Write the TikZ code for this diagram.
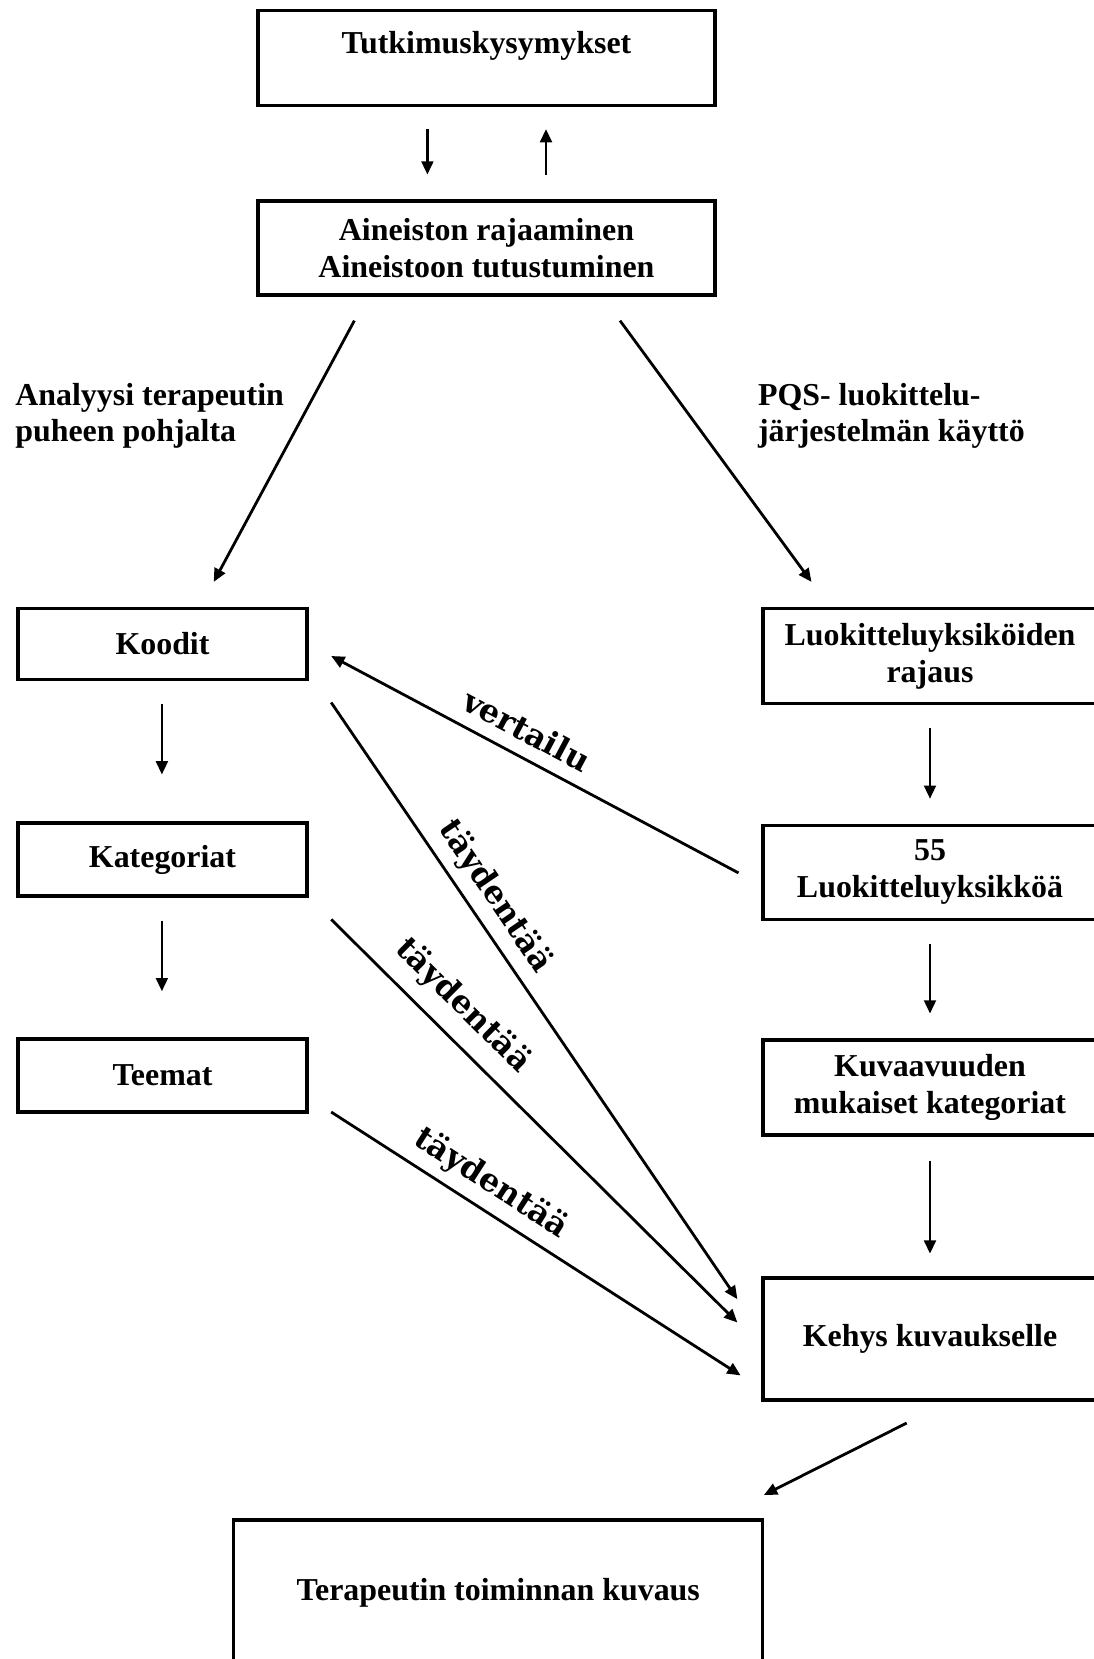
\documentclass[tikz,border=0pt]{standalone}
\usepackage{fontspec}
\setmainfont{Liberation Serif}
\newfontfamily\slabfont{DejaVu Serif}
\usetikzlibrary{arrows.meta}
\begin{document}
\begin{tikzpicture}[x=0.376pt,y=-0.376pt,
  box/.style={draw, line width=1.2pt, inner sep=0pt, font=\bfseries\fontsize{12}{13.8}\selectfont, align=center},
  txt/.style={font=\bfseries\fontsize{12}{13.8}\selectfont, inner sep=0pt},
  arr/.style={line width=1.05pt, -{Triangle[length=5pt,width=4.4pt]}},
  lbl/.style={font=\slabfont\bfseries\fontsize{12}{14}\selectfont, sloped, above}]
\clip (0,0) rectangle (1094,1659);
% boxes
\node[box, minimum width=171.8pt, minimum height=35.8pt] (b1) at (486.5,58.2) {};
\node[txt, anchor=base] (t1) at (486.5,53) {Tutkimuskysymykset};
\node[box, minimum width=171.8pt, minimum height=35.3pt] (b2) at (486.5,248) {Aineiston rajaaminen\\Aineistoon tutustuminen};
\node[box, minimum width=108.7pt, minimum height=26.6pt] (koodit) at (162.5,643.8) {Koodit};
\node[box, minimum width=108.7pt, minimum height=27.4pt] (kat) at (162.5,859.5) {Kategoriat};
\node[box, minimum width=108.7pt, minimum height=27.4pt] (teemat) at (162.5,1075.5) {Teemat};
\node[box, minimum width=125.6pt, minimum height=35.7pt] (luok) at (930,656) {Luokitteluyksiköiden\\rajaus};
\node[box, minimum width=125.6pt, minimum height=35.3pt] (n55) at (930,872.3) {55\\Luokitteluyksikköä};
\node[box, minimum width=125.6pt, minimum height=35.7pt] (kuv) at (930,1087.5) {Kuvaavuuden\\mukaiset kategoriat};
\node[box, minimum width=125.6pt, minimum height=45.9pt] (kehys) at (930,1339) {Kehys kuvaukselle};
\node[box, minimum width=198.9pt, minimum height=54.5pt] (bottom) at (498.3,1592.5) {Terapeutin toiminnan kuvaus};
% side labels
\node[txt, anchor=west, align=left] (ll) at (14.8,415.8) {Analyysi terapeutin\\puheen pohjalta};
\node[txt, anchor=west, align=left] (rl) at (757.5,415.8) {PQS- luokittelu-\\järjestelmän käyttö};
% arrow end points
\coordinate (d1a) at (427.4,129);   \coordinate (d1b) at (427.4,174.6);
\coordinate (u1a) at (546,174.6);   \coordinate (u1b) at (546,129);
\coordinate (la) at (354.4,320.6);  \coordinate (lb) at (213.7,581.9);
\coordinate (ra) at (620,320.6);    \coordinate (rb) at (811.5,581.9);
\coordinate (k1a) at (161.9,703.6); \coordinate (k1b) at (161.9,774.5);
\coordinate (k2a) at (161.9,920.5); \coordinate (k2b) at (161.9,991.3);
\coordinate (r1a) at (930,728);     \coordinate (r1b) at (930,798.8);
\coordinate (r2a) at (930,943.7);   \coordinate (r2b) at (930,1013.6);
\coordinate (r3a) at (930,1160.6);  \coordinate (r3b) at (930,1253.7);
\coordinate (va) at (738.5,872.9);  \coordinate (vb) at (331.2,656);
\coordinate (s1a) at (331.2,702.5); \coordinate (s1b) at (737.4,1299.2);
\coordinate (s2a) at (331.2,919.4); \coordinate (s2b) at (737.4,1322.5);
\coordinate (s3a) at (331.2,1112);  \coordinate (s3b) at (740.6,1375.4);
\coordinate (fa) at (906.7,1423);   \coordinate (fb) at (763.9,1495);
% arrows
\draw[arr] (d1a) -- (d1b);
\draw[arr] (u1a) -- (u1b);
\draw[arr] (la) -- (lb);
\draw[arr] (ra) -- (rb);
\draw[arr] (k1a) -- (k1b);
\draw[arr] (k2a) -- (k2b);
\draw[arr] (r1a) -- (r1b);
\draw[arr] (r2a) -- (r2b);
\draw[arr] (r3a) -- (r3b);
\draw[arr] (va) -- node[lbl, pos=0.55, yshift=1.5pt] {vertailu} (vb);
\draw[arr] (s1a) -- node[lbl, pos=0.35] {täydentää} (s1b);
\draw[arr] (s2a) -- node[lbl, pos=0.27, yshift=2pt] {täydentää} (s2b);
\draw[arr] (s3a) -- node[lbl, pos=0.356] {täydentää} (s3b);
\draw[arr] (fa) -- (fb);
\end{tikzpicture}
\end{document}
